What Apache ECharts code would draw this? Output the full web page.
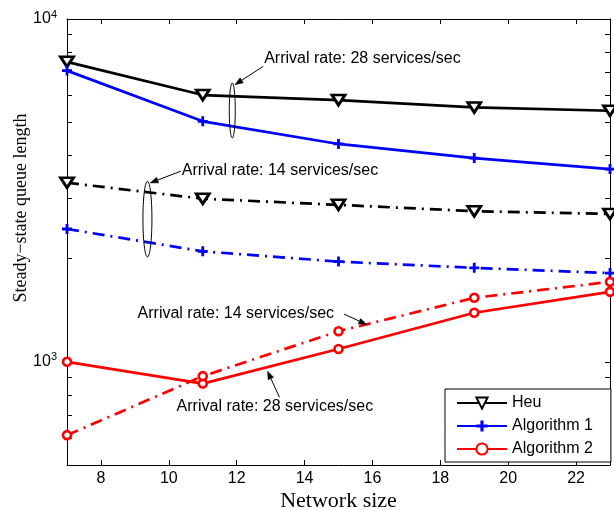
<!DOCTYPE html>
<html>
<head>
<meta charset="utf-8">
<script src="https://cdn.jsdelivr.net/npm/echarts@6/dist/echarts.min.js"></script>
<style>
html,body{margin:0;padding:0;background:#fff;}
#chart{width:614px;height:510px;}
</style>
</head>
<body>
<div id="chart"></div>
<script>
// ---- data ----
const networkSize = [7, 11, 15, 19, 23];
const heu28  = [7500, 6000, 5800, 5520, 5400];
const alg1_28 = [7070, 5030, 4320, 3930, 3650];
const heu14  = [3330, 2990, 2870, 2750, 2700];
const alg1_14 = [2440, 2100, 1960, 1880, 1815];
const alg2_28 = [1000, 864, 1090, 1390, 1600];
const alg2_14 = [611, 908, 1228, 1537, 1711];
const xTicks = [8, 10, 12, 14, 16, 18, 20, 22];
const yLabelTicks = [1000, 10000];
const yMinorTicks = [600, 700, 800, 900, 1000, 2000, 3000, 4000, 5000, 6000, 7000, 8000, 9000, 10000];
const legendNames = ['Heu', 'Algorithm 1', 'Algorithm 2'];
const annText28 = 'Arrival rate: 28 services/sec';
const annText14 = 'Arrival rate: 14 services/sec';

const SANS = 'Liberation Sans, Arial, Helvetica, sans-serif';
const SERIF = 'Liberation Serif, Times New Roman, serif';
const DASHDOT = [12, 6, 2, 6];
const PLUS = 'path://M3.6,0H6.4V3.6H10V6.4H6.4V10H3.6V6.4H0V3.6H3.6Z';

function pairs(ys) { return networkSize.map((x, i) => [x, ys[i]]); }

function mkSeries(name, data, color, kind, dash) {
  const s = {
    name: name, type: 'line', data: pairs(data),
    xAxisIndex: 0, yAxisIndex: 0,
    lineStyle: { color: color, width: 2.7, type: dash ? DASHDOT : 'solid' },
    itemStyle: { color: color },
    emphasis: { disabled: true },
    animation: false, z: 3, clip: false
  };
  if (kind === 'tri') {
    s.symbol = 'triangle'; s.symbolRotate = 180; s.symbolSize = [13, 10];
    s.itemStyle = { color: '#fff', borderColor: color, borderWidth: 2.8, borderType: 'solid' };
  } else if (kind === 'plus') {
    s.symbol = PLUS; s.symbolSize = 10;
    s.itemStyle = { color: color, borderWidth: 0 };
  } else {
    s.symbol = 'circle'; s.symbolSize = 8;
    s.itemStyle = { color: '#fff', borderColor: color, borderWidth: 2.6, borderType: 'solid' };
  }
  s.showAllSymbol = true;
  return s;
}

const chart = echarts.init(document.getElementById('chart'), null, { renderer: 'canvas' });

const axisCommonX = {
  type: 'value', min: 7, max: 23,
  axisLine: { show: true, onZero: false, lineStyle: { color: '#000', width: 1 } },
  axisTick: { show: true, inside: true, length: 5, customValues: xTicks, lineStyle: { color: '#000' } },
  splitLine: { show: false }
};
const axisCommonY = {
  type: 'log', logBase: 10, min: 500, max: 10000,
  axisLine: { show: true, onZero: false, lineStyle: { color: '#000', width: 1 } },
  axisTick: { show: true, inside: true, length: 5, customValues: yMinorTicks, lineStyle: { color: '#000' } },
  splitLine: { show: false }, minorTick: { show: false }, minorSplitLine: { show: false }
};

const option = {
  backgroundColor: '#fff',
  animation: false,
  grid: { left: 67, right: 4, top: 19, bottom: 45, containLabel: false, outerBoundsMode: 'none' },
  xAxis: [
    Object.assign({}, axisCommonX, {
      position: 'bottom',
      name: 'Network size', nameLocation: 'middle', nameGap: 25, nameMoveOverlap: false,
      nameTextStyle: { fontFamily: SERIF, fontSize: 22, color: '#000' },
      axisLabel: { show: true, customValues: xTicks, margin: 6, fontFamily: SANS, fontSize: 16, color: '#000' }
    }),
    Object.assign({}, axisCommonX, {
      position: 'top', axisLabel: { show: false }
    })
  ],
  yAxis: [
    Object.assign({}, axisCommonY, {
      position: 'left',
      name: 'Steady\u2212state queue length', nameLocation: 'middle', nameGap: 37, nameMoveOverlap: false,
      nameTextStyle: { fontFamily: SERIF, fontSize: 18, color: '#000', padding: [0, 0, 0, 68] },
      axisLabel: {
        show: true, customValues: yLabelTicks, margin: 10, color: '#000',
        formatter: function (v) { return '{b|10}{s|' + Math.round(Math.log10(v)) + '}'; },
        rich: {
          b: { fontFamily: SANS, fontSize: 16, color: '#000' },
          s: { fontFamily: SANS, fontSize: 11, color: '#000', padding: [0, 0, 9, 0] }
        }
      }
    }),
    Object.assign({}, axisCommonY, {
      position: 'right', axisLabel: { show: false }
    })
  ],
  legend: {
    data: legendNames, orient: 'vertical', left: 445, top: 389,
    itemWidth: 50, itemHeight: 14, itemGap: 7,
    padding: [6, 18, 5, 11],
    backgroundColor: '#fff', borderColor: '#000', borderWidth: 1, borderRadius: 0,
    textStyle: { fontFamily: SANS, fontSize: 16, color: '#000' },
    selectedMode: false, z: 10
  },
  series: [
    mkSeries('Heu', heu28, '#000', 'tri', false),
    mkSeries('Algorithm 1', alg1_28, '#0000ff', 'plus', false),
    mkSeries('Algorithm 2', alg2_28, '#ff0000', 'circ', false),
    mkSeries('Heu', heu14, '#000', 'tri', true),
    mkSeries('Algorithm 1', alg1_14, '#0000ff', 'plus', true),
    mkSeries('Algorithm 2', alg2_14, '#ff0000', 'circ', true)
  ]
};
chart.setOption(option);

// ---- annotations (in data coordinates) ----
const ellipses = [
  { x: 11.87, yTop: 6508, yBot: 4498, rx: 3 },
  { x: 9.37, yTop: 3362, yBot: 2023, rx: 4.5 }
];
const texts = [
  { x: 12.81, y: 7644, t: annText28 },
  { x: 10.38, y: 3612, t: annText14 },
  { x: 9.08, y: 1380, t: annText14 },
  { x: 10.23, y: 742, t: annText28 }
];
const arrows = [
  { from: [12.78, 7274], to: [11.95, 6435] },
  { from: [10.36, 3600], to: [9.45, 3325] },
  { from: [15.16, 1378], to: [15.83, 1285] },
  { from: [13.26, 788], to: [12.91, 939] }
];

function px(p) { return chart.convertToPixel({ gridIndex: 0 }, p); }
const g = [];
ellipses.forEach(e => {
  const a = px([e.x, e.yTop]), b = px([e.x, e.yBot]);
  g.push({ type: 'ellipse', silent: true, z: 20,
    shape: { cx: a[0], cy: (a[1] + b[1]) / 2, rx: e.rx, ry: Math.abs(b[1] - a[1]) / 2 },
    style: { fill: 'none', stroke: '#000', lineWidth: 1 } });
});
texts.forEach(t => {
  const p = px([t.x, t.y]);
  g.push({ type: 'text', silent: true, z: 20, x: p[0], y: p[1],
    style: { text: t.t, fill: '#000', font: '16px ' + SANS, textAlign: 'left', textVerticalAlign: 'middle' } });
});
arrows.forEach(ar => {
  const a = px(ar.from), b = px(ar.to);
  const dx = b[0] - a[0], dy = b[1] - a[1];
  const L = Math.sqrt(dx * dx + dy * dy), ux = dx / L, uy = dy / L;
  const hl = 8, hw = 3;
  const bx = b[0] - ux * hl, by = b[1] - uy * hl;
  g.push({ type: 'line', silent: true, z: 20,
    shape: { x1: a[0], y1: a[1], x2: bx, y2: by }, style: { stroke: '#000', lineWidth: 1 } });
  g.push({ type: 'polygon', silent: true, z: 20,
    shape: { points: [[b[0], b[1]], [bx - uy * hw, by + ux * hw], [bx + uy * hw, by - ux * hw]] },
    style: { fill: '#000', stroke: '#000', lineWidth: 0.5 } });
});
chart.setOption({ graphic: g });
</script>
</body>
</html>
